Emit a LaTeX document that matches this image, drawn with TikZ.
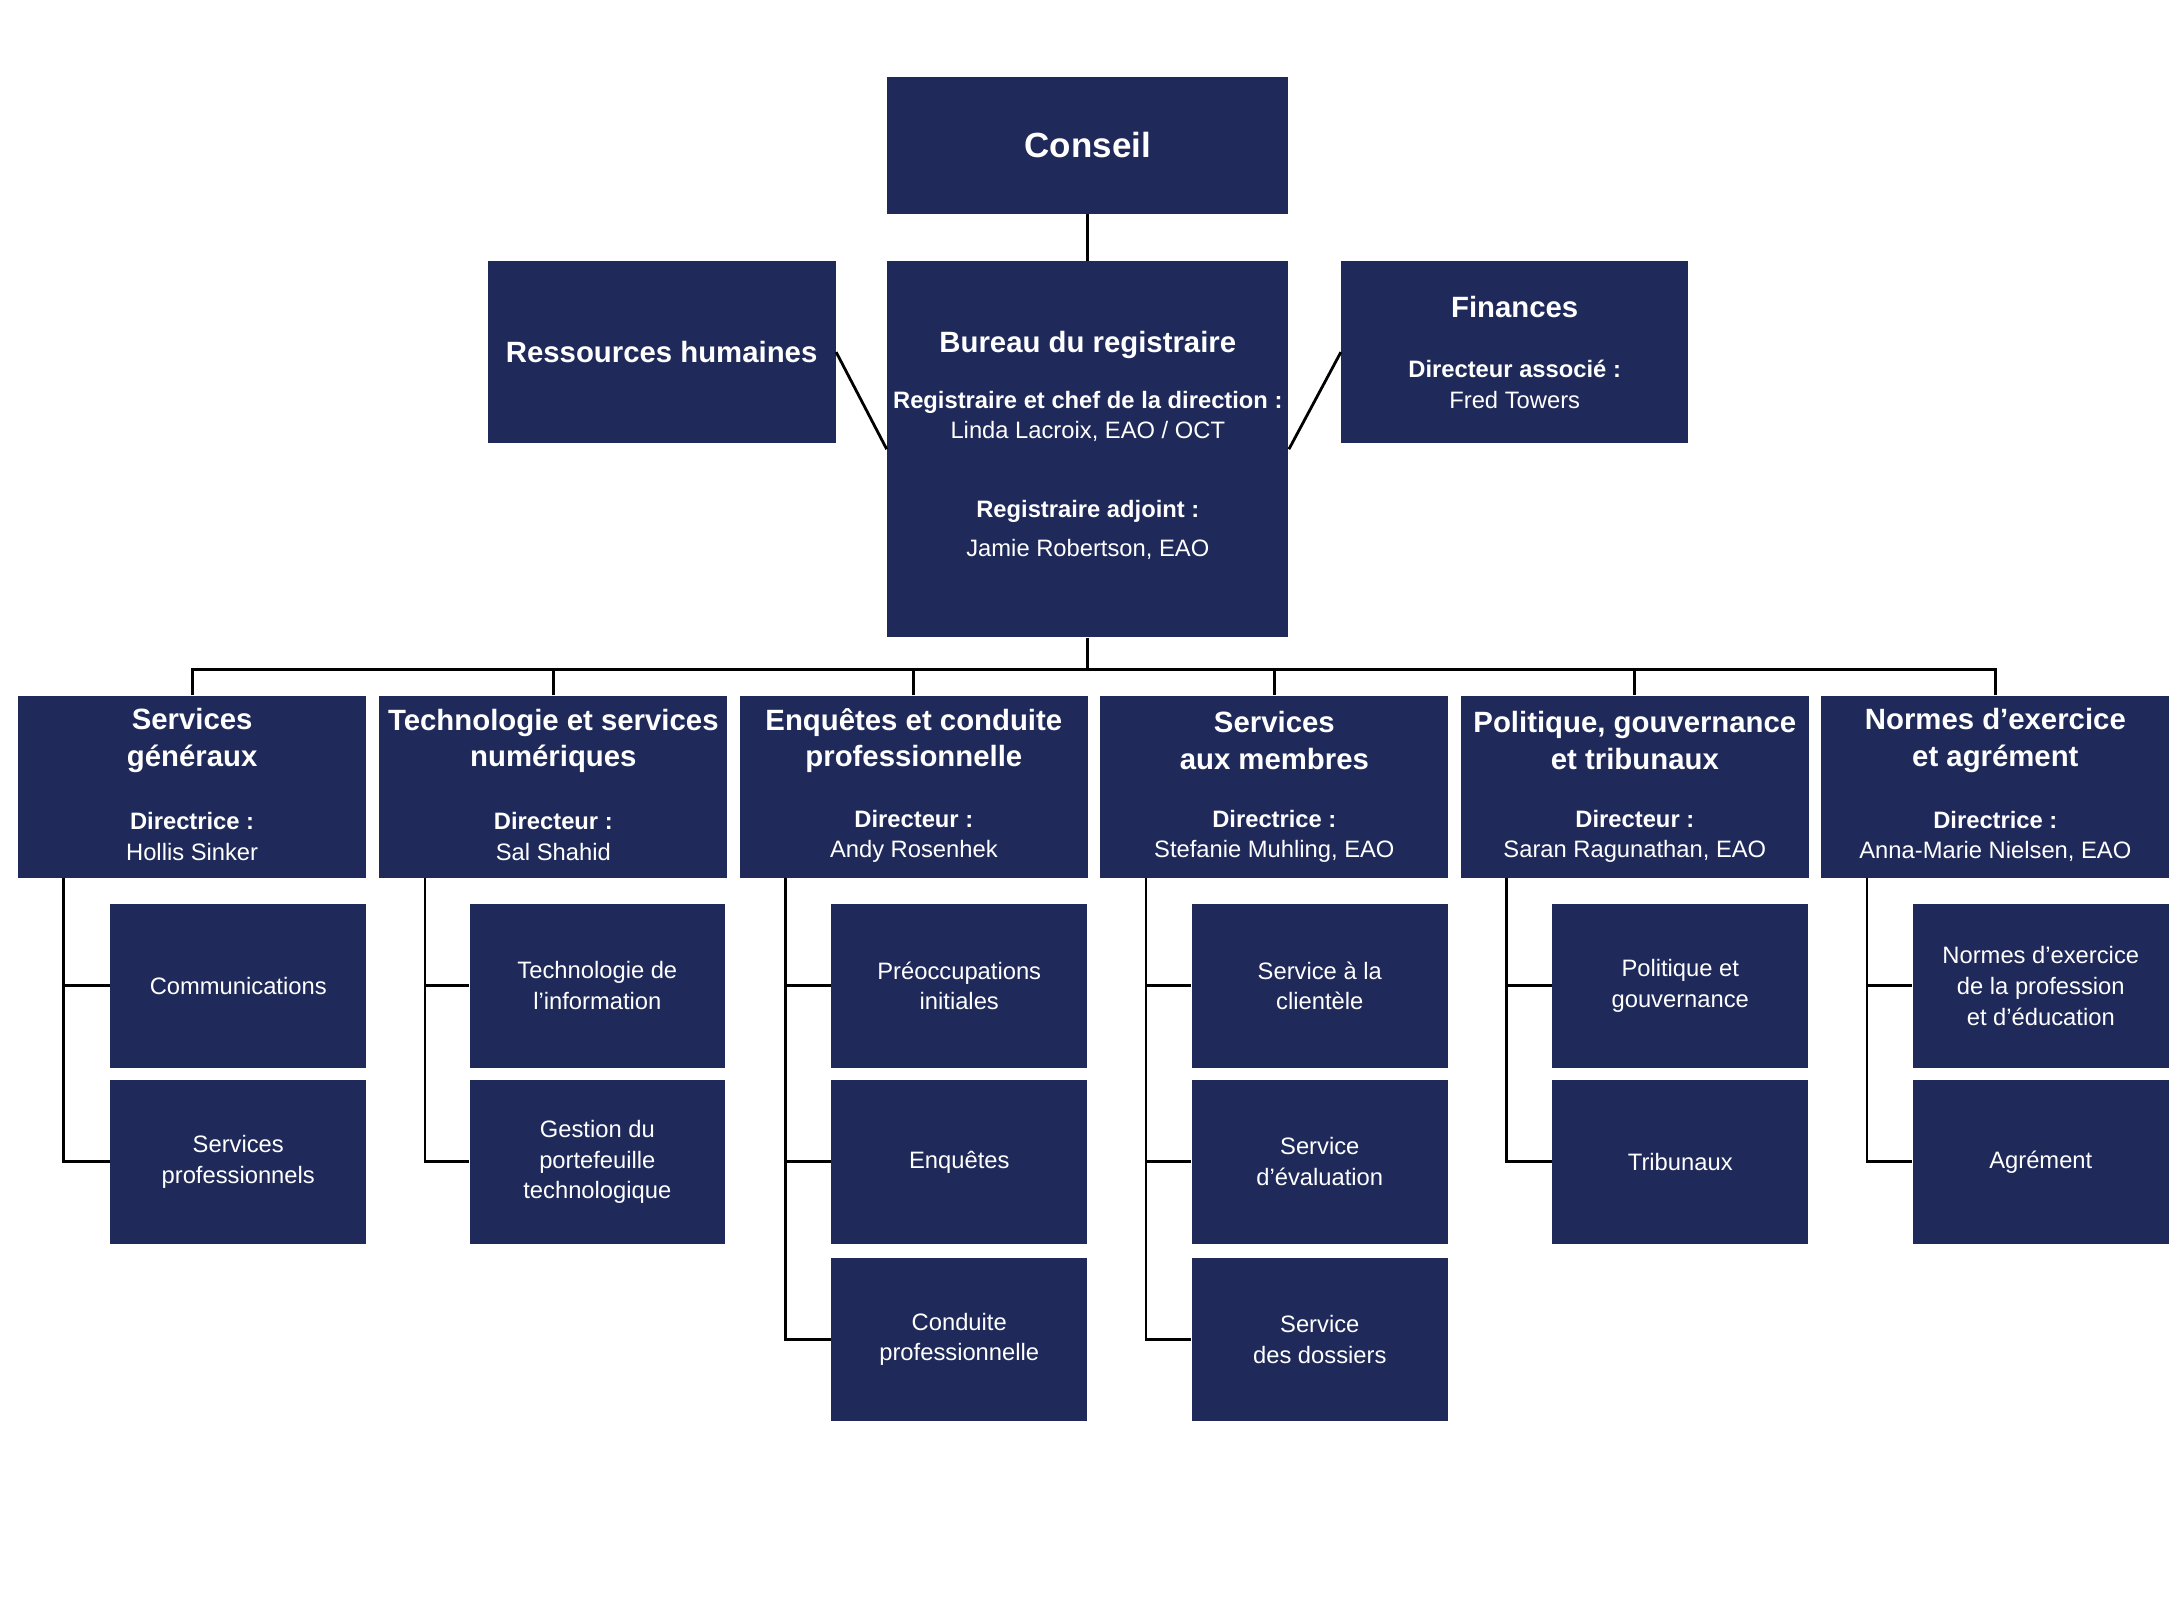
\documentclass[tikz,border=0pt]{standalone}
\usepackage{fontspec}
\setmainfont{Liberation Sans}
\definecolor{navy}{HTML}{1F2A5A}
\begin{document}
\begin{tikzpicture}[x=0.5pt,y=-0.5pt,
  box/.style={fill=navy,draw=none,inner sep=0pt},
  big/.style={box,minimum width=143.5pt},
  dir/.style={box,minimum width=124.5pt,minimum height=65pt},
  sub/.style={box,minimum width=91.5pt,minimum height=58.5pt,text=white,align=center,font=\fontsize{8.5}{11}\selectfont},
  ttl/.style={text=white,align=center,font=\fontsize{10.5}{13}\selectfont\bfseries,inner sep=0pt},
  bod/.style={text=white,align=center,font=\fontsize{8.5}{11}\selectfont,inner sep=0pt},
  ln/.style={line width=1pt,black}]
\useasboundingbox[fill=white] (0,0) rectangle (1563,1145);
% top
\node[big,minimum height=49pt] (conseil) at (778.5,104) {};
\node[ttl,font=\fontsize{12.5}{15}\selectfont\bfseries] (tc) at (778.5,104) {Conseil};
\node[box,minimum width=124.5pt,minimum height=65pt] (hr) at (473.5,252) {};
\node[ttl] (thr) at (473.5,252) {Ressources humaines};
\node[big,minimum height=134.5pt] (bureau) at (778.5,321.5) {};
\node[ttl] (tb1) at (778.5,247) {Bureau du registraire};
\node[bod] (tb2) at (778.5,298) {\textbf{Registraire et chef de la direction :}\\Linda Lacroix, EAO / OCT};
\node[bod] (tb3) at (778.5,366) {\textbf{Registraire adjoint :}};
\node[bod] (tb4) at (778.5,393) {Jamie Robertson, EAO};
\node[box,minimum width=124pt,minimum height=65pt] (fin) at (1084,252) {};
\node[ttl] (tf1) at (1084,220) {Finances};
\node[bod] (tf2) at (1084,275) {\textbf{Directeur associé :}\\Fred Towers};
\draw[ln] (conseil.south) -- (bureau.north);
\draw[ln] (hr.east) -- (bureau.west);
\draw[ln] (bureau.east) -- (fin.west);
\coordinate (bus) at (778.5,479);
\draw[ln] (bureau.south) -- (bus);
% directorates
\foreach \i/\x/\t/\r/\n in {
 1/137.5/{Services\\généraux}/Directrice/Hollis Sinker,
 2/396/{Technologie et services\\numériques}/Directeur/Sal Shahid,
 3/654/{Enquêtes et conduite\\professionnelle}/Directeur/Andy Rosenhek,
 4/912/{Services\\aux membres}/Directrice/{Stefanie Muhling, EAO},
 5/1170/{Politique, gouvernance\\et tribunaux}/Directeur/{Saran Ragunathan, EAO},
 6/1428/{Normes d’exercice\\et agrément}/Directrice/{Anna-Marie Nielsen, EAO}}{
 \node[dir] (d\i) at (\x,563) {};
 \node[ttl] (dt\i) at (\x,530) {\t};
 \node[bod] (dn\i) at (\x,598.5) {\textbf{\r\ :}\\\n};
 \draw[ln] (d\i.north) |- (bus);
 \coordinate (v\i) at ([xshift=16.5pt]d\i.south west);
}
% sub boxes
\foreach \i/\x/\a/\b in {
 1/170.5/Communications/{Services\\professionnels},
 2/427.5/{Technologie de\\l’information}/{Gestion du\\portefeuille\\technologique},
 3/686.5/{Préoccupations\\initiales}/Enquêtes,
 4/944.5/{Service à la\\clientèle}/{Service\\d’évaluation},
 5/1202.5/{Politique et\\gouvernance}/Tribunaux,
 6/1460.5/{Normes d’exercice\\de la profession\\et d’éducation}/Agrément}{
 \node[sub] (s\i a) at (\x,705.5) {\a};
 \node[sub] (s\i b) at (\x,831.5) {\b};
 \draw[ln] (v\i) |- (s\i a.west);
 \draw[ln] (v\i) |- (s\i b.west);
}
\node[sub] (s3c) at (686.5,958.5) {Conduite\\professionnelle};
\node[sub] (s4c) at (944.5,958.5) {Service\\des dossiers};
\draw[ln] (v3) |- (s3c.west);
\draw[ln] (v4) |- (s4c.west);
\end{tikzpicture}
\end{document}
